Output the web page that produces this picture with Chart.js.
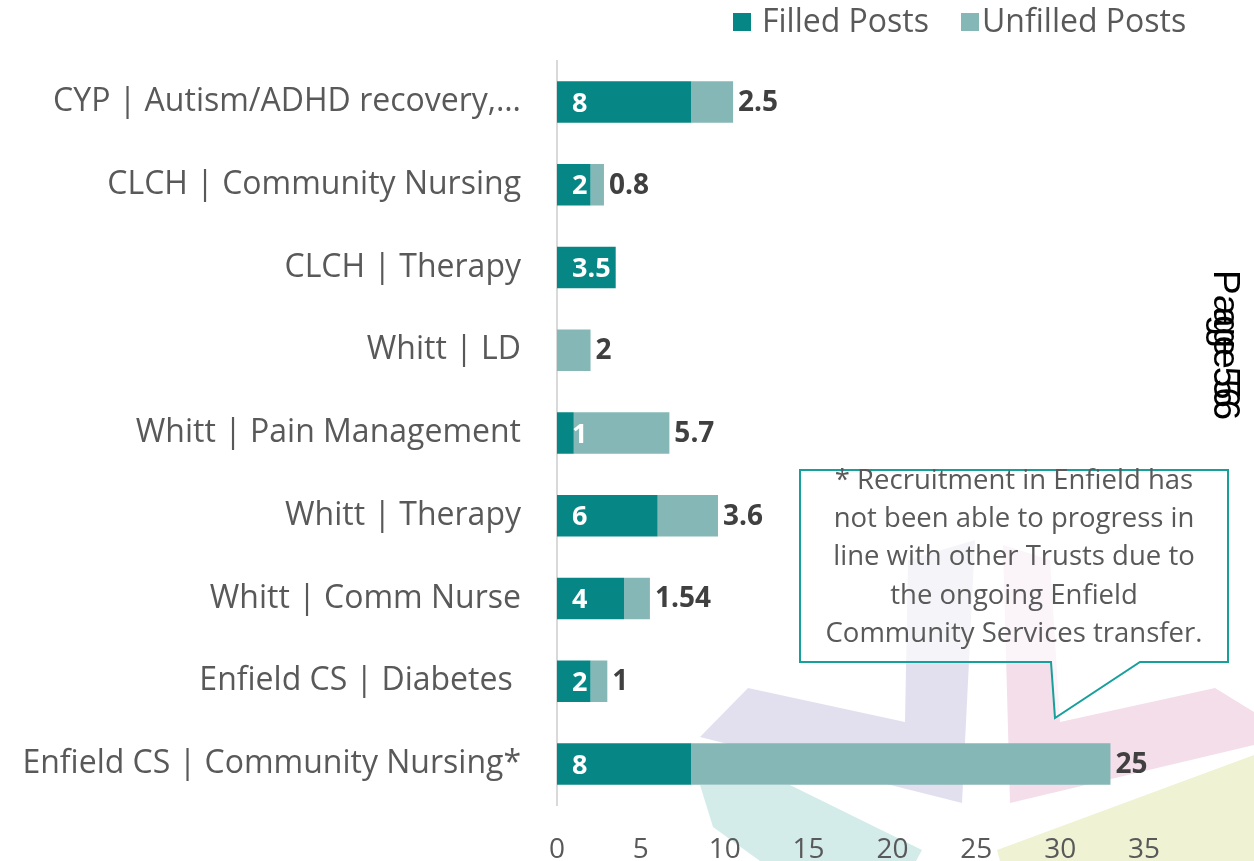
<!DOCTYPE html>
<html>
<head>
<meta charset="utf-8">
<style>
  html, body { margin: 0; padding: 0; background: #ffffff; }
  #wrap { width: 1254px; height: 861px; position: relative; }
  canvas { display: block; }
</style>
<script src="https://cdn.jsdelivr.net/npm/chart.js@4/dist/chart.umd.min.js"></script>
</head>
<body>
<div id="wrap"><canvas id="c" width="1254" height="861"></canvas></div>
<script>
const categories = [
  'CYP | Autism/ADHD recovery,…',
  'CLCH | Community Nursing',
  'CLCH | Therapy',
  'Whitt | LD',
  'Whitt | Pain Management',
  'Whitt | Therapy',
  'Whitt | Comm Nurse',
  'Enfield CS | Diabetes ',
  'Enfield CS | Community Nursing*'
];
const filledPosts   = [8, 2, 3.5, 0, 1, 6, 4, 2, 8];
const unfilledPosts = [2.5, 0.8, 0, 2, 5.7, 3.6, 1.54, 1, 25];
const xTicks = [0, 5, 10, 15, 20, 25, 30, 35];
const seriesNames = ['Filled Posts', 'Unfilled Posts'];
const calloutLines = [
  '* Recruitment in Enfield has',
  'not been able to progress in',
  'line with other Trusts due to',
  'the ongoing Enfield',
  'Community Services transfer.'
];

const FONT = "'Open Sans', 'Liberation Sans', sans-serif";
const COL_FILLED = '#068785';
const COL_UNFILLED = '#84B7B6';
const TXT = '#595959';

const bgPlugin = {
  id: 'bgShapes',
  beforeDraw(chart) {
    const ctx = chart.ctx;
    const polys = [
      ['#E2E0EE', [[700,737],[748,688],[905,722],[908,560],[975,540],[962,803]]],
      ['#F4DEEA', [[1010,803],[1003,545],[1050,560],[1060,722],[1215,688],[1254,712],[1254,745]]],
      ['#D3ECEA', [[700,785],[790,785],[922,850],[916,861],[760,861],[713,827]]],
      ['#EFF3D4', [[997,850],[1254,755],[1254,861],[1000,861]]]
    ];
    ctx.save();
    for (const [c, pts] of polys) {
      ctx.fillStyle = c;
      ctx.beginPath();
      pts.forEach((p, i) => i ? ctx.lineTo(p[0], p[1]) : ctx.moveTo(p[0], p[1]));
      ctx.closePath();
      ctx.fill();
    }
    ctx.restore();
  }
};

const labelPlugin = {
  id: 'valueLabels',
  afterDatasetsDraw(chart) {
    const ctx = chart.ctx;
    ctx.save();
    ctx.textBaseline = 'middle';
    ctx.textAlign = 'left';
    chart.data.datasets.forEach((ds, di) => {
      const meta = chart.getDatasetMeta(di);
      meta.data.forEach((el, i) => {
        const v = ds.data[i];
        if (!v) return;
        const p = el.getProps(['x', 'y', 'base'], true);
        if (di === 0) {
          ctx.fillStyle = '#ffffff';
          ctx.font = "bold 27px " + FONT;
          ctx.fillText(String(v), p.base + 15, p.y + 2);
        } else {
          ctx.fillStyle = '#404040';
          ctx.font = "bold 28px " + FONT;
          ctx.fillText(String(v), p.x + 5, p.y + 1);
        }
      });
    });
    ctx.restore();
  }
};

const decorPlugin = {
  id: 'decor',
  afterDraw(chart) {
    const ctx = chart.ctx;
    ctx.save();
    // legend
    ctx.font = "32px " + FONT;
    ctx.textBaseline = 'middle';
    ctx.textAlign = 'left';
    ctx.fillStyle = COL_FILLED;
    ctx.fillRect(733, 13, 18, 18);
    ctx.fillStyle = TXT;
    ctx.fillText(seriesNames[0], 762, 23);
    ctx.fillStyle = COL_UNFILLED;
    ctx.fillRect(961, 13, 18, 18);
    ctx.fillStyle = TXT;
    ctx.fillText(seriesNames[1], 982, 23);

    // callout
    ctx.beginPath();
    ctx.moveTo(800, 470);
    ctx.lineTo(1228, 470);
    ctx.lineTo(1228, 662);
    ctx.lineTo(1140, 662);
    ctx.lineTo(1055, 718);
    ctx.lineTo(1051, 662);
    ctx.lineTo(800, 662);
    ctx.closePath();
    ctx.fillStyle = 'rgba(255,255,255,0.65)';
    ctx.fill();
    ctx.strokeStyle = '#17A09B';
    ctx.lineWidth = 2;
    ctx.stroke();
    ctx.fillStyle = TXT;
    ctx.font = "27.5px " + FONT;
    ctx.textAlign = 'center';
    calloutLines.forEach((t, i) => ctx.fillText(t, 1014, 481 + i * 38.3));

    // page marker (doubled, as in the source)
    ctx.translate(1214, 270);
    ctx.rotate(Math.PI / 2);
    ctx.fillStyle = '#000000';
    ctx.font = "37px 'Liberation Sans', Arial, sans-serif";
    ctx.textAlign = 'left';
    ctx.textBaseline = 'alphabetic';
    ctx.fillText('Page 56', 0, 0);
    ctx.fillText('age 56', 25 + 12, 0);
    ctx.restore();
  }
};

new Chart(document.getElementById('c'), {
  type: 'bar',
  data: {
    labels: categories,
    datasets: [
      { label: seriesNames[0], data: filledPosts, backgroundColor: COL_FILLED, borderWidth: 0 },
      { label: seriesNames[1], data: unfilledPosts, backgroundColor: COL_UNFILLED, borderWidth: 0 }
    ]
  },
  options: {
    indexAxis: 'y',
    responsive: false,
    animation: false,
    events: [],
    categoryPercentage: 0.5,
    barPercentage: 1.0,
    layout: { padding: { top: 60.6, right: 110, left: 0, bottom: 0 } },
    plugins: { legend: { display: false }, tooltip: { enabled: false } },
    scales: {
      x: {
        stacked: true,
        min: 0, max: 35,
        afterBuildTicks(scale) { scale.ticks = xTicks.map(v => ({ value: v })); },
        grid: { display: false, drawTicks: false },
        border: { display: false },
        ticks: { color: TXT, font: { family: FONT, size: 28 }, padding: 28, maxRotation: 0 },
        afterFit(scale) { scale.height = 55.6; }
      },
      y: {
        stacked: true,
        grid: { display: false, drawTicks: false },
        border: { display: true, color: '#D9D9D9', width: 2 },
        ticks: { color: TXT, font: { family: FONT, size: 32 }, padding: 36, autoSkip: false },
        afterFit(scale) { scale.width = 557; }
      }
    }
  },
  plugins: [bgPlugin, labelPlugin, decorPlugin]
});
</script>
</body>
</html>
